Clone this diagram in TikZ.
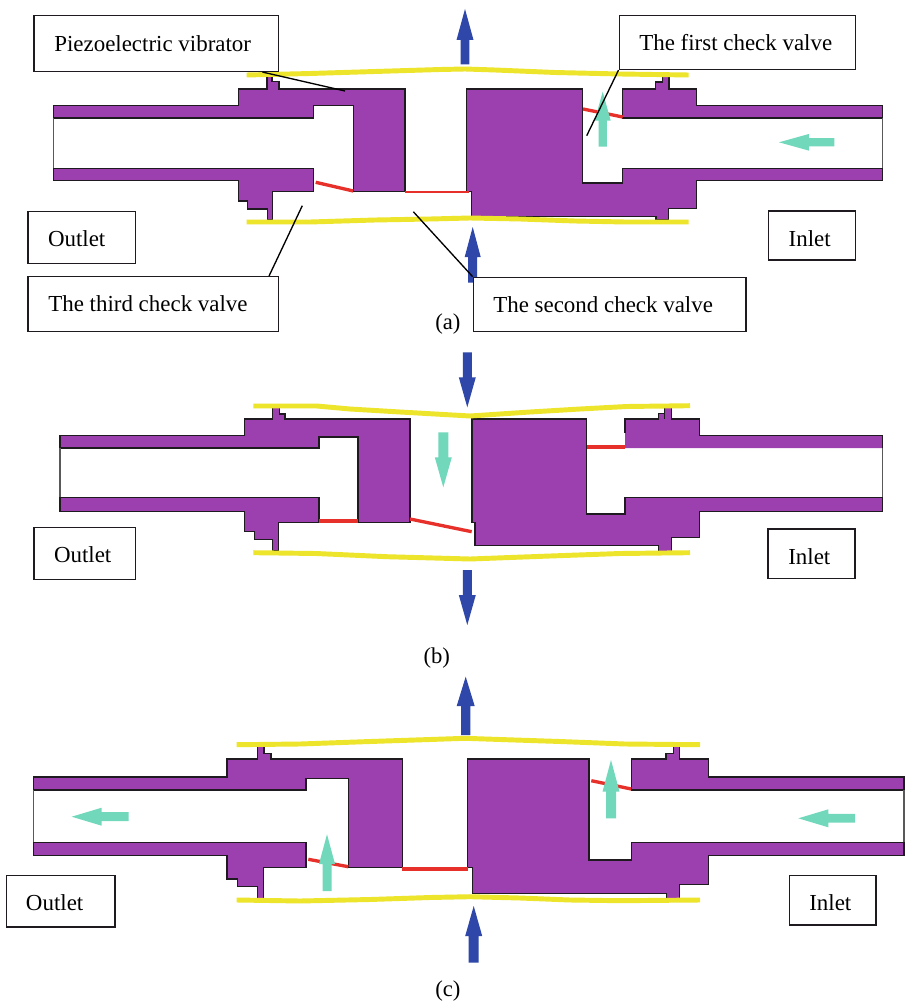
\documentclass[tikz,border=0pt]{standalone}
\usepackage{fontspec}
\setmainfont{Liberation Serif}
\definecolor{wallc}{RGB}{156,64,176}
\definecolor{linec}{RGB}{30,26,32}
\definecolor{yelc}{RGB}{237,228,44}
\definecolor{redc}{RGB}{232,48,42}
\definecolor{tealc}{RGB}{114,216,188}
\definecolor{bluec}{RGB}{46,71,168}
\tikzset{
  wallfill/.style={fill=wallc},
  wall/.style={fill=wallc,draw=linec,line width=1.1pt,line join=miter},
  edge/.style={draw=linec,line width=1.1pt,line join=miter},
  borecap/.style={draw=black!65,line width=0.9pt},
  plate/.style={draw=yelc,line width=3.7pt,line join=round},
  flap/.style={draw=redc,line width=2.5pt},
  flatflap/.style={draw=redc,line width=3pt},
  leader/.style={draw=black,line width=1pt},
  labelbox/.style={draw=linec,fill=white,line width=1.15pt,inner sep=0pt,rectangle,align=flush left,
    text depth=0pt,font=\fontsize{17.2}{20}\selectfont},
  caption/.style={inner sep=0pt,anchor=base west,font=\fontsize{17}{20}\selectfont}
}
% box: name, x1, y1, x2, y2, text left, baseline, text
\newcommand{\lblbox}[8]{%
  \pgfmathsetmacro\boxwid{(#4-#2)*0.75}%
  \pgfmathsetmacro\boxhei{(#5-#3)*0.75}%
  \pgfmathsetmacro\boxins{(#6-#2)*0.75}%
  \pgfmathsetmacro\boxbas{(#7-(#3+#5)/2)*1.5}%
  \node[labelbox,minimum width=\boxwid pt,minimum height=\boxhei pt,text width=\boxwid pt,text height=\boxbas pt]
    (#1) at ({(#2+#4)/2},{(#3+#5)/2}) {\hspace*{\boxins pt}#8};}
% vertical arrow: cx, tip, base, end, head width, shaft width, colour
\newcommand{\varrow}[7]{%
  \fill[#7] ({#1},#2) -- ({#1+#5/2},#3) -- ({#1+#6/2},#3) -- ({#1+#6/2},#4) -- ({#1-#6/2},#4)
    -- ({#1-#6/2},#3) -- ({#1-#5/2},#3) -- cycle;}
% horizontal arrow: cy, tip, base, end, head width, shaft width, colour
\newcommand{\harrow}[7]{%
  \fill[#7] (#2,{#1}) -- (#3,{#1+#5/2}) -- (#3,{#1+#6/2}) -- (#4,{#1+#6/2}) -- (#4,{#1-#6/2})
    -- (#3,{#1-#6/2}) -- (#3,{#1-#5/2}) -- cycle;}
\begin{document}
\begin{tikzpicture}[x=0.75pt,y=-0.75pt]
\useasboundingbox (0,0) rectangle (906,1002);
\fill[white] (0,0) rectangle (906,1002);

%% ---------- panel (a)
\draw[wall] (53.3,105.7) -- (238.3,105.7) -- (238.3,89) -- (267,89) -- (267,76.7) -- (272,76.7) -- (272,81.7) -- (279,81.7) -- (279,89)
  -- (405,89) -- (405,191.7) -- (353.3,191.7) -- (353.3,105.7) -- (313.3,105.7) -- (313.3,118) -- (53.3,118) -- cycle;
\draw[wall] (53.3,168.3) -- (313.3,168.3) -- (313.3,191.7) -- (272.7,191.7) -- (272.7,220) -- (267.3,220) -- (267.3,209) -- (247.7,209)
  -- (247.7,201) -- (238.3,201) -- (238.3,180.7) -- (53.3,180.7) -- cycle;
\draw[borecap] (53.3,118) -- (53.3,168.3);
\draw[wall] (466.7,89) -- (582.7,89) -- (582.7,183) -- (622.7,183) -- (622.7,168.3) -- (882.3,168.3) -- (882.3,180.7) -- (696.7,180.7)
  -- (696.7,208.3) -- (668.3,208.3) -- (668.3,220) -- (656,220) -- (656,216.7) -- (471.7,216.7) -- (471.7,191.7) -- (466.7,191.7) -- cycle;
\draw[wall] (622.7,89) -- (655.7,89) -- (655.7,82) -- (662.7,82) -- (662.7,76.7) -- (669,76.7) -- (669,89) -- (696.7,89) -- (696.7,105.7)
  -- (882.3,105.7) -- (882.3,118) -- (622.7,118) -- cycle;
\draw[borecap] (882.3,118) -- (882.3,168.3);
\draw[plate] (246.7,75) -- (310,73.5) -- (375,71.5) -- (440,69.5) -- (465,69) -- (495,70) -- (555,72.5) -- (620,74) -- (688.7,75);
\draw[plate] (246.7,222) -- (310,222) -- (375,220) -- (430,219) -- (470,218) -- (520,219) -- (575,221) -- (625,222) -- (688.7,222);
\draw[flap] (315.7,182.3) -- (353.3,191);
\draw[flap,line width=1.6pt] (405,192.3) -- (469,192.3);
\draw[flap] (583,109) -- (622.7,117);
\varrow{602.7}{91.7}{120.7}{146.7}{16}{8.3}{tealc}
\harrow{142.3}{779}{809}{834.3}{16.7}{8.3}{tealc}
\varrow{465}{9}{40}{64.3}{17}{8.7}{bluec}
\varrow{472.7}{227}{257}{282.7}{16}{9}{bluec}
\lblbox{piezo}{34}{15.7}{278.3}{71.3}{54.3}{51.7}{Piezoelectric vibrator}
\lblbox{outleta}{28}{211.7}{135.7}{263.3}{48}{246.7}{Outlet}
\lblbox{third}{28}{276.7}{278.3}{331.7}{48.3}{311.7}{The third check valve}
\lblbox{first}{619.3}{15.3}{855.3}{69.3}{639.3}{51}{The first check valve}
\lblbox{inleta}{768.7}{211}{855.3}{260}{788.7}{246}{Inlet}
\lblbox{second}{473.3}{277.3}{746}{331.7}{493.3}{312.7}{The second check valve}
\coordinate (piezoend) at (345,91);
\coordinate (firstend) at (586.7,135.7);
\coordinate (secondend) at (413.3,211.7);
\coordinate (thirdend) at (302.3,205.7);
\draw[leader] ([xshift=-12.45pt]piezo.south east) -- (piezoend);
\draw[leader] (first.south west) -- (firstend);
\draw[leader] (second.north west) -- (secondend);
\draw[leader] ([xshift=-7.5pt]third.north east) -- (thirdend);
\node[caption] (capa) at (435,329) {(a)};

%% ---------- panel (b)
\draw[wall] (60,435.7) -- (244.7,435.7) -- (244.7,419) -- (272.3,419) -- (272.3,406.7) -- (279.3,406.7) -- (279.3,414) -- (285,414) -- (285,419)
  -- (410,419) -- (410,522.3) -- (358,522.3) -- (358,437) -- (319,437) -- (319,448) -- (60,448) -- cycle;
\draw[wall] (60,497.3) -- (319,497.3) -- (319,522.3) -- (278.3,522.3) -- (278.3,550.7) -- (272.3,550.7) -- (272.3,539.3) -- (254.3,539.3)
  -- (254.3,531.7) -- (244.7,531.7) -- (244.7,511.7) -- (60,511.7) -- cycle;
\draw[borecap] (60,448) -- (60,497.3);
\draw[wall] (472,419) -- (586.7,419) -- (586.7,514) -- (625,514) -- (625,497.3) -- (882.3,497.3) -- (882.3,511.3) -- (699.3,511.3)
  -- (699.3,537.3) -- (671.7,537.3) -- (671.7,551.3) -- (658.3,551.3) -- (658.3,545.7) -- (475,545.7) -- (475,522.3) -- (472,522.3) -- cycle;
\fill[wallfill] (625,419) -- (658.3,419) -- (658.3,413.3) -- (664.7,413.3) -- (664.7,406.7) -- (671.7,406.7) -- (671.7,419) -- (699.3,419)
  -- (699.3,435.7) -- (882.3,435.7) -- (882.3,448) -- (625,448) -- cycle;
\draw[edge] (625,433) -- (625,419) -- (658.3,419) -- (658.3,413.3) -- (664.7,413.3) -- (664.7,406.7) -- (671.7,406.7) -- (671.7,419) -- (699.3,419)
  -- (699.3,435.7) -- (882.3,435.7) -- (882.3,448);
\draw[edge] (664.7,419) -- (664.7,413.3);
\draw[borecap] (882.3,448) -- (882.3,497.3);
\draw[plate] (253.3,406) -- (316.7,406) -- (350,409) -- (400,412) -- (470,416) -- (530,412) -- (580,409) -- (626.7,406.5) -- (690,405.7);
\draw[plate] (253.3,552.7) -- (316,553.5) -- (386.7,556.7) -- (470,559) -- (550,556) -- (620,553.5) -- (690,552.7);
\draw[flatflap] (319,520.7) -- (358,520.7);
\draw[flap] (410,519) -- (471.7,531.7);
\draw[flatflap] (586.7,446.7) -- (625,446.7);
\varrow{443.3}{487.3}{457.3}{432.3}{17}{10}{tealc}
\varrow{467.3}{407.3}{377.3}{352.3}{17}{9}{bluec}
\varrow{467.3}{625}{595}{570}{17}{9}{bluec}
\lblbox{outletb}{34}{527.3}{135.7}{579.3}{54}{562.7}{Outlet}
\lblbox{inletb}{768}{529}{855}{578.3}{788.3}{564}{Inlet}
\node[caption] (capb) at (423.3,663.3) {(b)};

%% ---------- panel (c)
\draw[wall] (33.3,777) -- (227,777) -- (227,759) -- (257.7,759) -- (257.7,746.3) -- (264,746.3) -- (264,753.3) -- (271,753.3) -- (271,759)
  -- (402.3,759) -- (402.3,867.3) -- (348.3,867.3) -- (348.3,778.3) -- (306,778.3) -- (306,790) -- (33.3,790) -- cycle;
\draw[wall] (33.3,842.3) -- (306,842.3) -- (306,867.3) -- (263.3,867.3) -- (263.3,898.7) -- (257.3,898.7) -- (257.3,886.7) -- (237.3,886.7)
  -- (237.3,879) -- (227,879) -- (227,855.7) -- (33.3,855.7) -- cycle;
\draw[borecap] (33.3,790) -- (33.3,842.3);
\draw[wall] (467.7,759) -- (589,759) -- (589,860) -- (631.3,860) -- (631.3,842.3) -- (904,842.3) -- (904,855.7) -- (708.7,855.7)
  -- (708.7,884.7) -- (679.3,884.7) -- (679.3,898.7) -- (666.7,898.7) -- (666.7,893.7) -- (472.3,893.7) -- (472.3,867.3) -- (467.7,867.3) -- cycle;
\draw[wall] (631.3,759) -- (666,759) -- (666,753.3) -- (673.3,753.3) -- (673.3,746.3) -- (679.7,746.3) -- (679.7,759) -- (708.7,759) -- (708.7,777)
  -- (904,777) -- (904,790) -- (631.3,790) -- cycle;
\draw[borecap] (904,790) -- (904,842.3);
\draw[plate] (236.7,744.7) -- (300,744) -- (370,741.5) -- (430,739.5) -- (465,738.3) -- (500,739.5) -- (560,741.5) -- (625,744) -- (700,744.7);
\draw[plate] (236.7,900) -- (300,901) -- (370,899.5) -- (430,897.5) -- (470,896.7) -- (520,898) -- (570,900) -- (620,900.7) -- (700,900);
\draw[flap] (308.3,859.3) -- (348.3,866.7);
\draw[flatflap] (402.3,869) -- (468.3,869);
\draw[flap] (591.3,780.7) -- (631.3,789);
\varrow{611}{760}{791.7}{818.3}{17}{10}{tealc}
\varrow{327}{834.3}{864}{891}{16}{9}{tealc}
\harrow{818.3}{798.3}{828.3}{855}{18}{8.7}{tealc}
\harrow{816.7}{71.7}{101.7}{128.7}{18}{9}{tealc}
\varrow{465.7}{676.7}{706}{735}{18}{9.3}{bluec}
\varrow{473.7}{906}{936}{962.7}{17}{10}{bluec}
\lblbox{outletc}{6.7}{875.3}{115}{927}{26}{910.7}{Outlet}
\lblbox{inletc}{789.3}{875.7}{876}{925}{809.3}{910.7}{Inlet}
\node[caption] (capc) at (435,996.5) {(c)};
\end{tikzpicture}
\end{document}
